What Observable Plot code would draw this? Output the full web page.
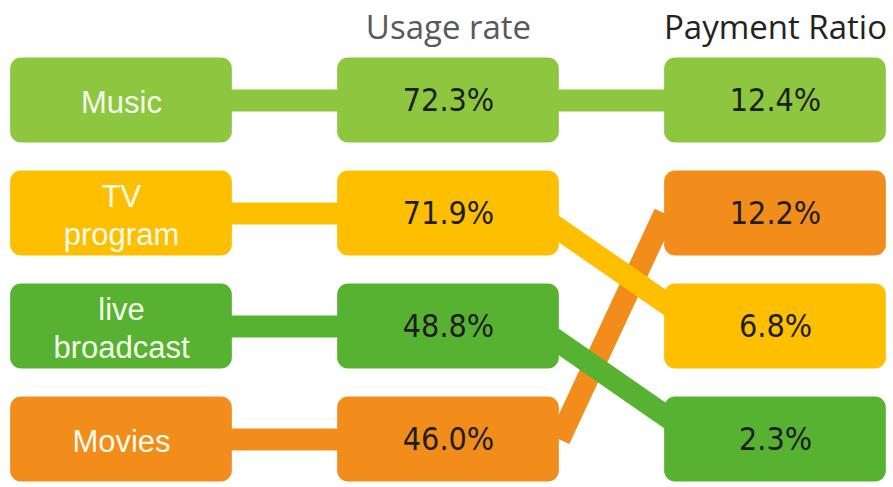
<!DOCTYPE html>
<html><head><meta charset="utf-8">
<script src="https://cdn.jsdelivr.net/npm/d3@7"></script>
<script src="https://cdn.jsdelivr.net/npm/@observablehq/plot@0.6"></script>
<style>body{margin:0;background:#fff}</style>
</head><body><div id="chart"></div>
<script>
// ---- data ----
const categories = ["Music", "TV\nprogram", "live\nbroadcast", "Movies"];
const usageRate = [72.3, 71.9, 48.8, 46.0];
const paymentRatio = [12.4, 6.8, 2.3, 12.2];
const colors = ["#8DC63F", "#FDBF00", "#57B232", "#F28C1A"];
const headers = ["Usage rate", "Payment Ratio"];
const headerColors = ["#595959", "#222222"];

// ---- layout (column / row units) ----
const hw = 0.339, hh = 0.376;
const usageRank = usageRate.map(v => usageRate.filter(w => w > v).length);
const payRank = paymentRatio.map(v => paymentRatio.filter(w => w > v).length);

const items = categories.map((c, i) => ({
  name: c, color: colors[i], usage: usageRate[i], pay: paymentRatio[i],
  r0: usageRank[i], r1: payRank[i]
}));

const boxes = items.flatMap(d => [
  {col: 0, row: d.r0, color: d.color},
  {col: 1, row: d.r0, color: d.color},
  {col: 2, row: d.r1, color: d.color}
]);

const links1 = items.map(d => ({x1: 0, x2: 1, y1: d.r0, y2: d.r0, color: d.color}));
const links2 = items.map(d => {
  const down = d.r1 > d.r0, up = d.r1 < d.r0;
  return {
    x1: up ? 1 + hw : down ? 1 + hw - 0.07 : 1,
    x2: up ? 2 - hw : down ? 2 - hw + 0.107 : 2,
    y1: d.r0, y2: d.r1, color: d.color, order: up ? 0 : 1
  };
}).sort((a, b) => a.order - b.order);

const values = items.flatMap(d => [
  {col: 1, row: d.r0, text: d.usage.toFixed(1) + "%"},
  {col: 2, row: d.r1, text: d.pay.toFixed(1) + "%"}
]);
const heads = headers.map((h, i) => ({col: i + 1, text: h, color: headerColors[i]}));

const chart = Plot.plot({
  width: 893, height: 487, margin: 0,
  x: {domain: [-0.37, 2.3609], range: [0, 893], axis: null},
  y: {domain: [-0.885, 3.425], range: [0, 487], axis: null},
  color: {type: "identity"},
  marks: [
    Plot.link(links1, {x1: "x1", x2: "x2", y1: "y1", y2: "y2", stroke: "color", strokeWidth: 22, strokeLinecap: "butt"}),
    Plot.link(links2, {x1: "x1", x2: "x2", y1: "y1", y2: "y2", stroke: "color", strokeWidth: 22, strokeLinecap: "butt"}),
    Plot.rect(boxes, {x1: d => d.col - hw, x2: d => d.col + hw, y1: d => d.row - hh, y2: d => d.row + hh, fill: "color", rx: 11}),
    Plot.text(items, {x: () => 0, y: "r0", text: "name", fill: "#F4FBEA", fontSize: 31, lineHeight: 1.25, fontFamily: "Liberation Sans, Arial, sans-serif"}),
    Plot.text(values, {x: "col", y: "row", text: "text", fill: "#1E1E1E", fontSize: 32, fontFamily: "Liberation Sans Narrow, Arial Narrow, DejaVu Sans Condensed, sans-serif"}),
    Plot.text(heads, {x: "col", y: () => -0.637, text: "text", fill: "color", fontSize: 33, fontFamily: "Open Sans, sans-serif"})
  ]
});
document.getElementById("chart").appendChild(chart);
</script>
</body></html>
